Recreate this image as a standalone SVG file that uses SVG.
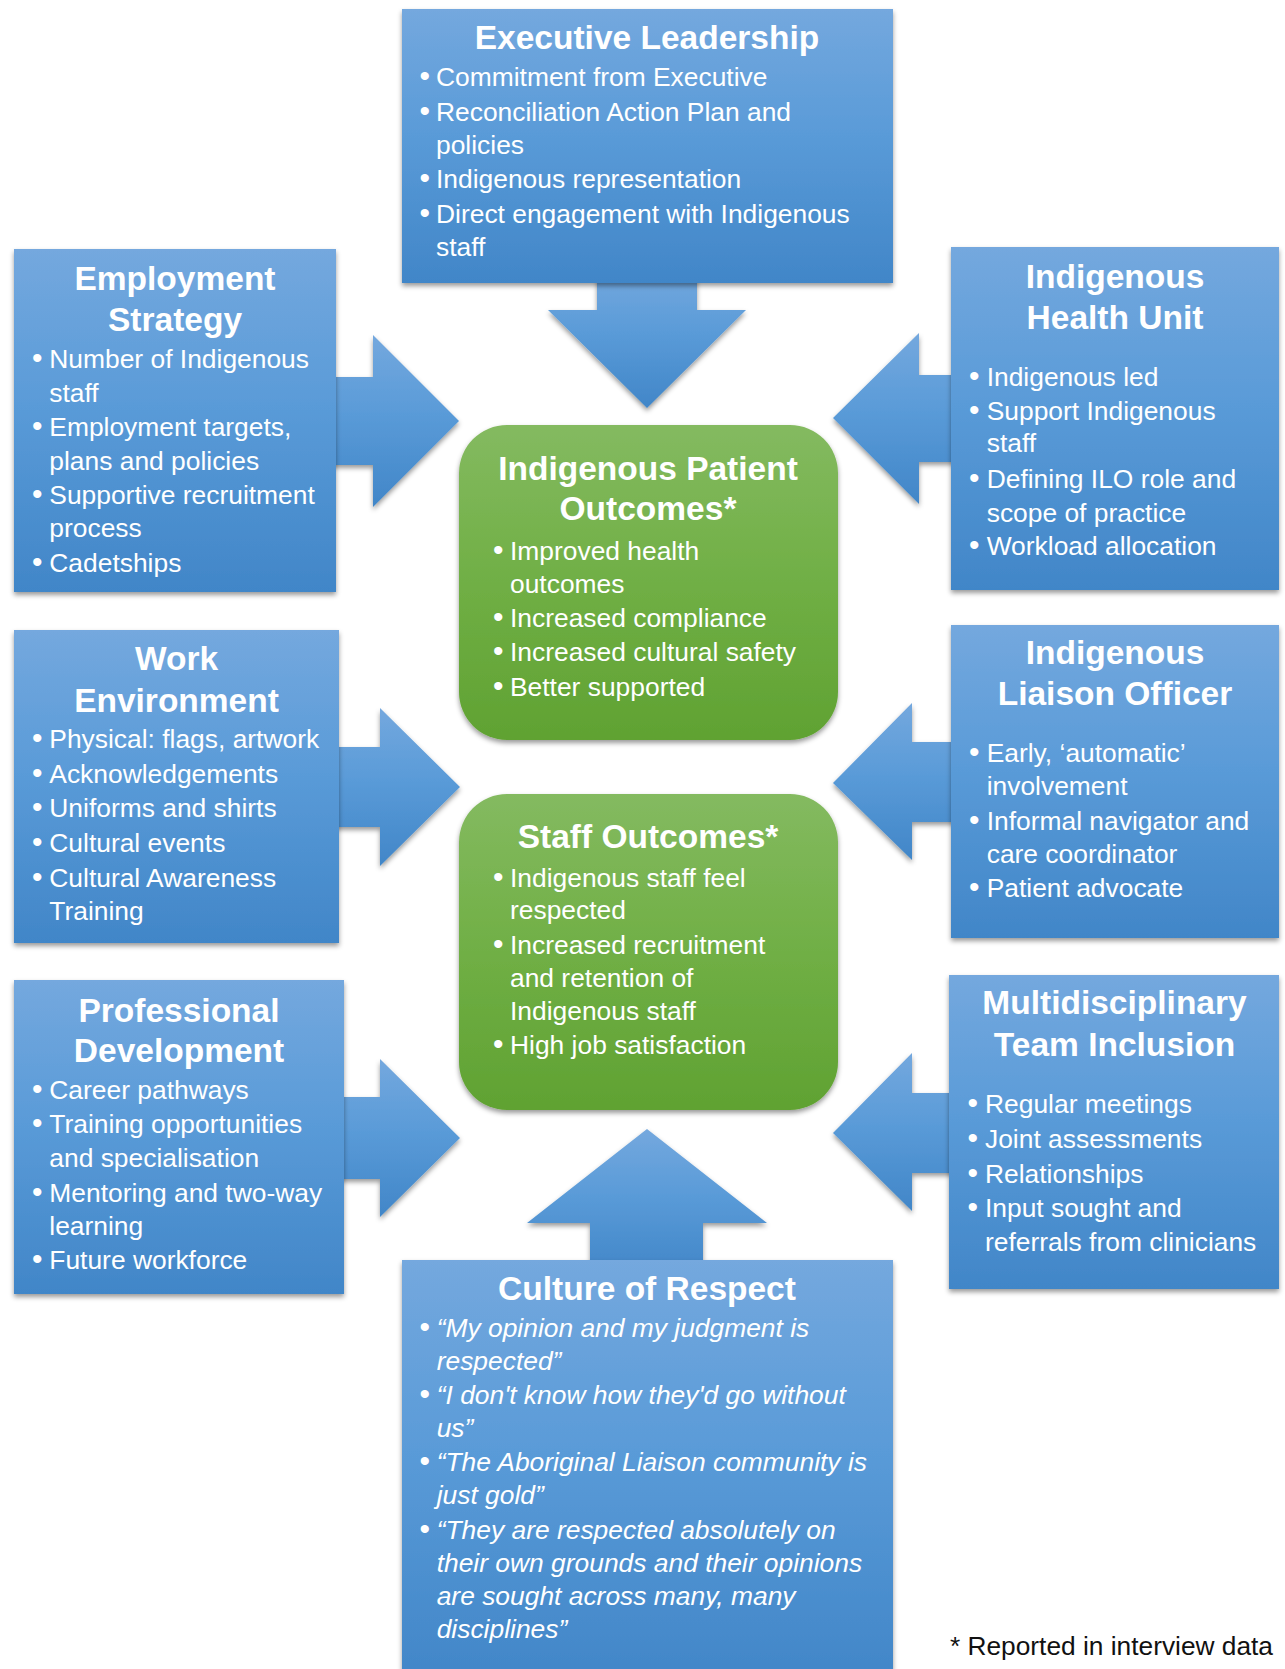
<svg xmlns="http://www.w3.org/2000/svg" width="1285" height="1669" viewBox="0 0 1285 1669">
<defs>
<linearGradient id="blueG" x1="0" y1="0" x2="0" y2="1">
<stop offset="0" stop-color="#74A8DE"/>
<stop offset="0.45" stop-color="#5A9BD8"/>
<stop offset="1" stop-color="#4186C8"/>
</linearGradient>
<linearGradient id="greenG" x1="0" y1="0" x2="0" y2="1">
<stop offset="0" stop-color="#84BA60"/>
<stop offset="0.5" stop-color="#70AF45"/>
<stop offset="1" stop-color="#60A232"/>
</linearGradient>
<filter id="sh" x="-10%" y="-10%" width="120%" height="125%">
<feDropShadow dx="0" dy="3" stdDeviation="2.5" flood-color="#000" flood-opacity="0.4"/>
</filter>
</defs>
<style>
.box{fill:url(#blueG);filter:url(#sh);}
.gbox{fill:url(#greenG);filter:url(#sh);}
.arr{fill:url(#blueG);filter:url(#sh);}
.t{font-family:"Liberation Sans",Arial,Helvetica,sans-serif;font-weight:bold;font-size:33.5px;fill:#fff;text-anchor:middle;}
.b{font-family:"Liberation Sans",Arial,Helvetica,sans-serif;font-size:26.4px;fill:#fff;}
.d{font-size:30px;}
.i{font-style:italic;}
.fn{font-family:"Liberation Sans",Arial,Helvetica,sans-serif;font-size:26.3px;fill:#111;text-anchor:end;}
</style>
<rect width="1285" height="1669" fill="#fff"/>

<g id="connectors">
<polygon class="arr" points="597,270 697,270 697,310 746,310 647,408 548,310 597,310"/>
<polygon class="arr" points="320,377 373,377 373,335 459,421 373,507 373,465 320,465"/>
<polygon class="arr" points="965,375 919,375 919,333 833,418 919,504 919,462 965,462"/>
<polygon class="arr" points="325,747 380,747 380,708 460,787 380,866 380,827 325,827"/>
<polygon class="arr" points="965,742 912,742 912,703 833,783 912,860 912,822 965,822"/>
<polygon class="arr" points="330,1097 380,1097 380,1059 460,1138 380,1217 380,1179 330,1179"/>
<polygon class="arr" points="965,1093 912,1093 912,1053 833,1133 912,1211 912,1173 965,1173"/>
<polygon class="arr" points="590,1275 703,1275 703,1223 767,1223 647,1129 527,1223 590,1223"/>
</g>

<g id="executive-leadership">
<rect class="box" x="402" y="9" width="491" height="274"/>
<text class="t" x="647" y="49">Executive Leadership</text>
<text class="b">
<tspan class="d" x="419.5" y="86">•</tspan><tspan x="436" y="86">Commitment from Executive</tspan>
<tspan class="d" x="419.5" y="120.7">•</tspan><tspan x="436" y="120.7">Reconciliation Action Plan and</tspan>
<tspan x="436" y="154">policies</tspan>
<tspan class="d" x="419.5" y="188">•</tspan><tspan x="436" y="188">Indigenous representation</tspan>
<tspan class="d" x="419.5" y="222.7">•</tspan><tspan x="436" y="222.7">Direct engagement with Indigenous</tspan>
<tspan x="436" y="256">staff</tspan>
</text>
</g>

<g id="employment-strategy">
<rect class="box" x="14" y="249" width="322" height="343"/>
<text class="t"><tspan x="175" y="290">Employment</tspan><tspan x="175" y="331">Strategy</tspan></text>
<text class="b">
<tspan class="d" x="32" y="368.3">•</tspan><tspan x="49.3" y="368.3">Number of Indigenous</tspan>
<tspan x="49.3" y="401.7">staff</tspan>
<tspan class="d" x="32" y="436">•</tspan><tspan x="49.3" y="436">Employment targets,</tspan>
<tspan x="49.3" y="470">plans and policies</tspan>
<tspan class="d" x="32" y="504.3">•</tspan><tspan x="49.3" y="504.3">Supportive recruitment</tspan>
<tspan x="49.3" y="536.7">process</tspan>
<tspan class="d" x="32" y="571.7">•</tspan><tspan x="49.3" y="571.7">Cadetships</tspan>
</text>
</g>

<g id="indigenous-health-unit">
<rect class="box" x="951" y="247" width="328" height="343"/>
<text class="t"><tspan x="1115" y="288.3">Indigenous</tspan><tspan x="1115" y="329.3">Health Unit</tspan></text>
<text class="b">
<tspan class="d" x="969" y="385.7">•</tspan><tspan x="986.7" y="385.7">Indigenous led</tspan>
<tspan class="d" x="969" y="420">•</tspan><tspan x="986.7" y="420">Support Indigenous</tspan>
<tspan x="986.7" y="452.3">staff</tspan>
<tspan class="d" x="969" y="488.3">•</tspan><tspan x="986.7" y="488.3">Defining ILO role and</tspan>
<tspan x="986.7" y="521.7">scope of practice</tspan>
<tspan class="d" x="969" y="555">•</tspan><tspan x="986.7" y="555">Workload allocation</tspan>
</text>
</g>

<g id="indigenous-patient-outcomes">
<rect class="gbox" x="459" y="425" width="379" height="315" rx="48" ry="48"/>
<text class="t"><tspan x="648" y="480">Indigenous Patient</tspan><tspan x="648" y="520">Outcomes*</tspan></text>
<text class="b">
<tspan class="d" x="493" y="560">•</tspan><tspan x="510" y="560">Improved health</tspan>
<tspan x="510" y="592.7">outcomes</tspan>
<tspan class="d" x="493" y="626.7">•</tspan><tspan x="510" y="626.7">Increased compliance</tspan>
<tspan class="d" x="493" y="660.7">•</tspan><tspan x="510" y="660.7">Increased cultural safety</tspan>
<tspan class="d" x="493" y="696">•</tspan><tspan x="510" y="696">Better supported</tspan>
</text>
</g>

<g id="work-environment">
<rect class="box" x="14" y="630" width="325" height="313"/>
<text class="t"><tspan x="176.5" y="670">Work</tspan><tspan x="176.5" y="711.7">Environment</tspan></text>
<text class="b">
<tspan class="d" x="32" y="748.3">•</tspan><tspan x="49.3" y="748.3">Physical: flags, artwork</tspan>
<tspan class="d" x="32" y="783.3">•</tspan><tspan x="49.3" y="783.3">Acknowledgements</tspan>
<tspan class="d" x="32" y="817.3">•</tspan><tspan x="49.3" y="817.3">Uniforms and shirts</tspan>
<tspan class="d" x="32" y="851.7">•</tspan><tspan x="49.3" y="851.7">Cultural events</tspan>
<tspan class="d" x="32" y="886.7">•</tspan><tspan x="49.3" y="886.7">Cultural Awareness</tspan>
<tspan x="49.3" y="920">Training</tspan>
</text>
</g>

<g id="indigenous-liaison-officer">
<rect class="box" x="951" y="625" width="328" height="313"/>
<text class="t"><tspan x="1115" y="664.3">Indigenous</tspan><tspan x="1115" y="705">Liaison Officer</tspan></text>
<text class="b">
<tspan class="d" x="969" y="761.7">•</tspan><tspan x="986.7" y="761.7">Early, ‘automatic’</tspan>
<tspan x="986.7" y="795">involvement</tspan>
<tspan class="d" x="969" y="830">•</tspan><tspan x="986.7" y="830">Informal navigator and</tspan>
<tspan x="986.7" y="862.7">care coordinator</tspan>
<tspan class="d" x="969" y="897.3">•</tspan><tspan x="986.7" y="897.3">Patient advocate</tspan>
</text>
</g>

<g id="staff-outcomes">
<rect class="gbox" x="459" y="794" width="379" height="316" rx="48" ry="48"/>
<text class="t" x="648" y="848.3">Staff Outcomes*</text>
<text class="b">
<tspan class="d" x="493" y="886.7">•</tspan><tspan x="510" y="886.7">Indigenous staff feel</tspan>
<tspan x="510" y="919.3">respected</tspan>
<tspan class="d" x="493" y="954">•</tspan><tspan x="510" y="954">Increased recruitment</tspan>
<tspan x="510" y="986.7">and retention of</tspan>
<tspan x="510" y="1020">Indigenous staff</tspan>
<tspan class="d" x="493" y="1054">•</tspan><tspan x="510" y="1054">High job satisfaction</tspan>
</text>
</g>

<g id="professional-development">
<rect class="box" x="14" y="980" width="330" height="314"/>
<text class="t"><tspan x="179" y="1021.7">Professional</tspan><tspan x="179" y="1062.3">Development</tspan></text>
<text class="b">
<tspan class="d" x="32" y="1099.3">•</tspan><tspan x="49.3" y="1099.3">Career pathways</tspan>
<tspan class="d" x="32" y="1133.3">•</tspan><tspan x="49.3" y="1133.3">Training opportunities</tspan>
<tspan x="49.3" y="1167.3">and specialisation</tspan>
<tspan class="d" x="32" y="1201.7">•</tspan><tspan x="49.3" y="1201.7">Mentoring and two-way</tspan>
<tspan x="49.3" y="1235">learning</tspan>
<tspan class="d" x="32" y="1269.3">•</tspan><tspan x="49.3" y="1269.3">Future workforce</tspan>
</text>
</g>

<g id="multidisciplinary-team-inclusion">
<rect class="box" x="949" y="975" width="330" height="314"/>
<text class="t"><tspan x="1114.5" y="1014.3">Multidisciplinary</tspan><tspan x="1114.5" y="1056">Team Inclusion</tspan></text>
<text class="b">
<tspan class="d" x="967.5" y="1113.3">•</tspan><tspan x="985" y="1113.3">Regular meetings</tspan>
<tspan class="d" x="967.5" y="1148.3">•</tspan><tspan x="985" y="1148.3">Joint assessments</tspan>
<tspan class="d" x="967.5" y="1182.7">•</tspan><tspan x="985" y="1182.7">Relationships</tspan>
<tspan class="d" x="967.5" y="1216.7">•</tspan><tspan x="985" y="1216.7">Input sought and</tspan>
<tspan x="985" y="1250.7">referrals from clinicians</tspan>
</text>
</g>

<g id="culture-of-respect">
<rect class="box" x="402" y="1260" width="491" height="420"/>
<text class="t" x="647" y="1299.5">Culture of Respect</text>
<text class="b">
<tspan class="d" x="419.5" y="1337">•</tspan><tspan class="i" x="436.7" y="1337">“My opinion and my judgment is</tspan>
<tspan class="i" x="436.7" y="1369.5">respected”</tspan>
<tspan class="d" x="419.5" y="1403.5">•</tspan><tspan class="i" x="436.7" y="1403.5">“I don't know how they'd go without</tspan>
<tspan class="i" x="436.7" y="1437">us”</tspan>
<tspan class="d" x="419.5" y="1471">•</tspan><tspan class="i" x="436.7" y="1471">“The Aboriginal Liaison community is</tspan>
<tspan class="i" x="436.7" y="1504">just gold”</tspan>
<tspan class="d" x="419.5" y="1539">•</tspan><tspan class="i" x="436.7" y="1539">“They are respected absolutely on</tspan>
<tspan class="i" x="436.7" y="1571.7">their own grounds and their opinions</tspan>
<tspan class="i" x="436.7" y="1605">are sought across many, many</tspan>
<tspan class="i" x="436.7" y="1637.5">disciplines”</tspan>
</text>
</g>

<text class="fn" x="1273" y="1655">* Reported in interview data</text>
</svg>
